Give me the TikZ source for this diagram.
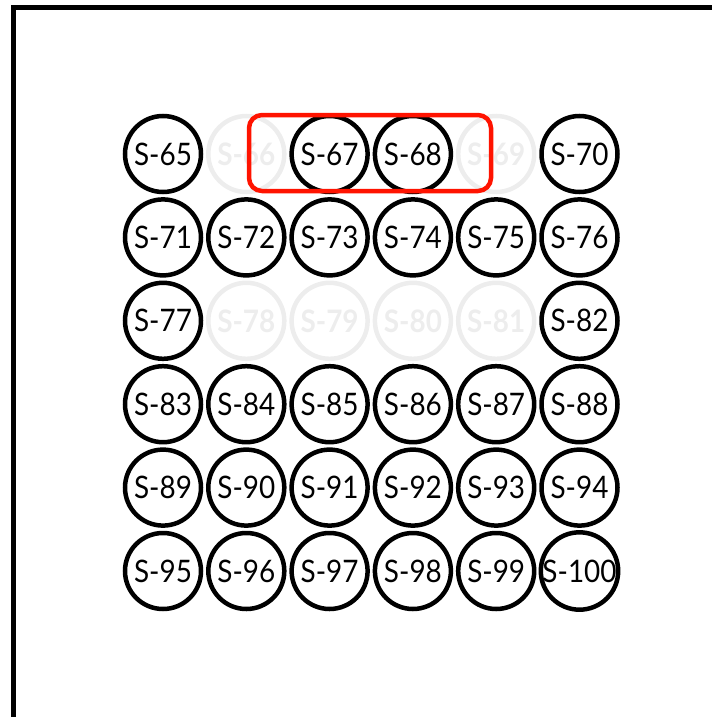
\documentclass[tikz,border=0pt]{standalone}
\usepackage{fontspec}
\setmainfont{Lato}[FakeStretch=0.9]
\begin{document}
\begin{tikzpicture}[x=1pt,y=-1pt,
  seat/.style={circle,draw=black,line width=4.5pt,minimum size=76pt,inner sep=0pt,font=\fontsize{31}{32}\selectfont},
  gone/.style={circle,draw=black!7,text=black!7,line width=4.5pt,minimum size=76pt,inner sep=0pt,font=\fontsize{31}{32}\selectfont\bfseries},
  sel/.style={draw=red!85!orange,line width=4.5pt,rounded corners=13pt}]
\useasboundingbox (0,0) rectangle (712,717);
\coordinate (bl) at (13.5,717);
\coordinate (tl) at (13.5,7.5);
\coordinate (tr) at (712,7.5);
\draw[line width=5pt] (bl) -- (tl) -- (tr);
\foreach \n/\c/\r/\s in {65/0/0/seat,66/1/0/gone,67/2/0/seat,68/3/0/seat,69/4/0/gone,70/5/0/seat,
  71/0/1/seat,72/1/1/seat,73/2/1/seat,74/3/1/seat,75/4/1/seat,76/5/1/seat,
  77/0/2/seat,78/1/2/gone,79/2/2/gone,80/3/2/gone,81/4/2/gone,82/5/2/seat,
  83/0/3/seat,84/1/3/seat,85/2/3/seat,86/3/3/seat,87/4/3/seat,88/5/3/seat,
  89/0/4/seat,90/1/4/seat,91/2/4/seat,92/3/4/seat,93/4/4/seat,94/5/4/seat,
  95/0/5/seat,96/1/5/seat,97/2/5/seat,98/3/5/seat,99/4/5/seat,100/5/5/seat}
  \node[\s] (s\n) at (163+83.3*\c,154+83.4*\r) {S-\n};
\coordinate (selA) at (249,115);
\coordinate (selB) at (491,191);
\draw[sel] (selA) rectangle (selB);
\end{tikzpicture}
\end{document}
